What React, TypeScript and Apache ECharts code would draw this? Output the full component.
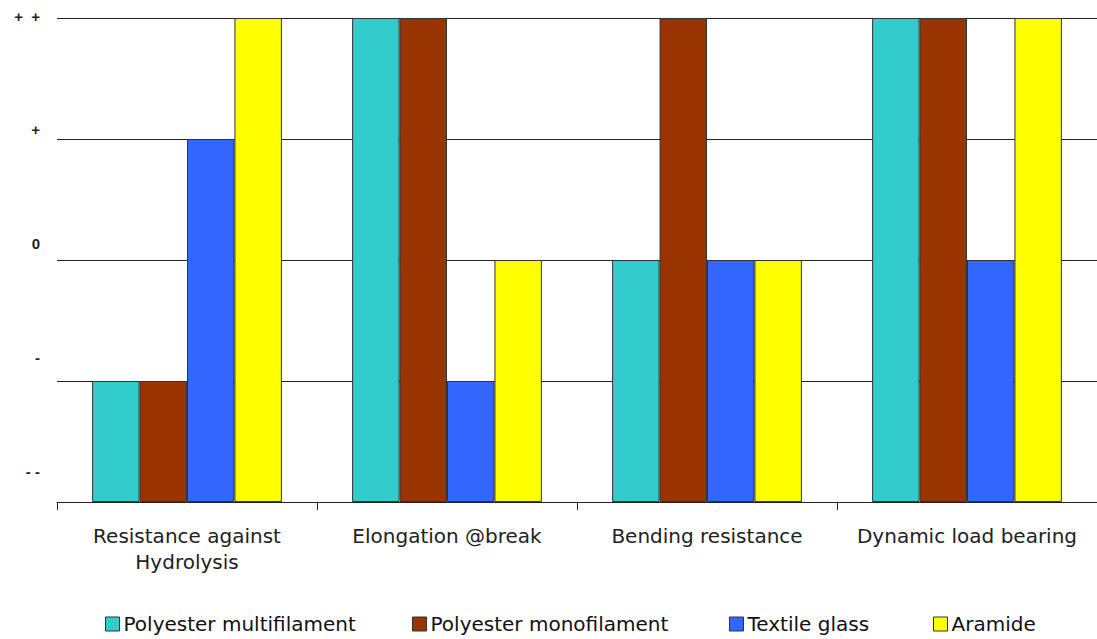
import React, { useEffect, useRef } from "react";
import * as echarts from "echarts";

const categories = ["Resistance against\nHydrolysis", "Elongation @break", "Bending resistance", "Dynamic load bearing"];
const yLabels = ["- -", "-", "0", "+", "+  +"];
const seriesNames = ["Polyester multifilament", "Polyester monofilament", "Textile glass", "Aramide"];
const colors = ["#33CCCC", "#993300", "#3366FF", "#FFFF00"];
const polyMulti = [1, 4, 2, 4];
const polyMono = [1, 4, 4, 4];
const textileGlass = [3, 1, 2, 2];
const aramide = [4, 2, 2, 4];

const FONT = "DejaVu Sans, Liberation Sans, Arial, sans-serif";
const legendLefts = [100, 407, 724, 928];

export default function App() {
  const ref = useRef<HTMLDivElement>(null);
  useEffect(() => {
    if (!ref.current) return;
    const chart = echarts.init(ref.current, null, { renderer: "svg" });
    const values = [polyMulti, polyMono, textileGlass, aramide];
    chart.setOption({
      animation: false,
      backgroundColor: "#ffffff",
      textStyle: { fontFamily: FONT },
      grid: [
        { left: 57, right: 0, top: 18, bottom: 137, containLabel: false },
        { left: 48, width: 1, top: 16, bottom: 168, containLabel: false },
      ],
      xAxis: [
        {
          type: "category",
          gridIndex: 0,
          data: categories,
          axisLine: { show: true, lineStyle: { color: "#222", width: 1 } },
          axisTick: { show: true, length: 8, lineStyle: { color: "#222" } },
          axisLabel: { color: "#222", fontSize: 20, fontFamily: FONT, margin: 21, lineHeight: 26, interval: 0 },
        },
        { type: "value", gridIndex: 1, show: false },
      ],
      yAxis: [
        {
          type: "value",
          gridIndex: 0,
          min: 0,
          max: 4,
          interval: 1,
          axisLine: { show: false },
          axisTick: { show: false },
          axisLabel: { show: false },
          splitLine: { show: true, lineStyle: { color: "#222", width: 1 } },
        },
        {
          type: "value",
          gridIndex: 1,
          min: 0,
          max: 4,
          interval: 1,
          axisLine: { show: false },
          axisTick: { show: false },
          splitLine: { show: false },
          axisLabel: {
            color: "#222",
            fontSize: 15,
            fontWeight: "bold",
            fontFamily: "Liberation Sans, Arial, sans-serif",
            margin: 8,
            formatter: (v: number) => yLabels[Math.round(v)] ?? "",
          },
        },
      ],
      legend: seriesNames.map((name, i) => ({
        left: legendLefts[i],
        top: 609,
        itemWidth: 14,
        itemHeight: 14,
        icon: "rect",
        textStyle: { fontSize: 20, color: "#111", fontFamily: FONT, padding: [0, 0, 0, -1] },
        data: [{ name, itemStyle: { borderColor: "#333", borderWidth: 1 } }],
      })),
      series: seriesNames.map((name, i) => ({
        name,
        type: "bar",
        xAxisIndex: 0,
        yAxisIndex: 0,
        data: values[i],
        barGap: "0%",
        barCategoryGap: "27%",
        itemStyle: { color: colors[i], borderColor: "#333", borderWidth: 1 },
      })),
    });
    return () => chart.dispose();
  }, []);
  return <div ref={ref} style={{ position: "fixed", left: 0, top: 0, width: 1097, height: 639 }} />;
}
